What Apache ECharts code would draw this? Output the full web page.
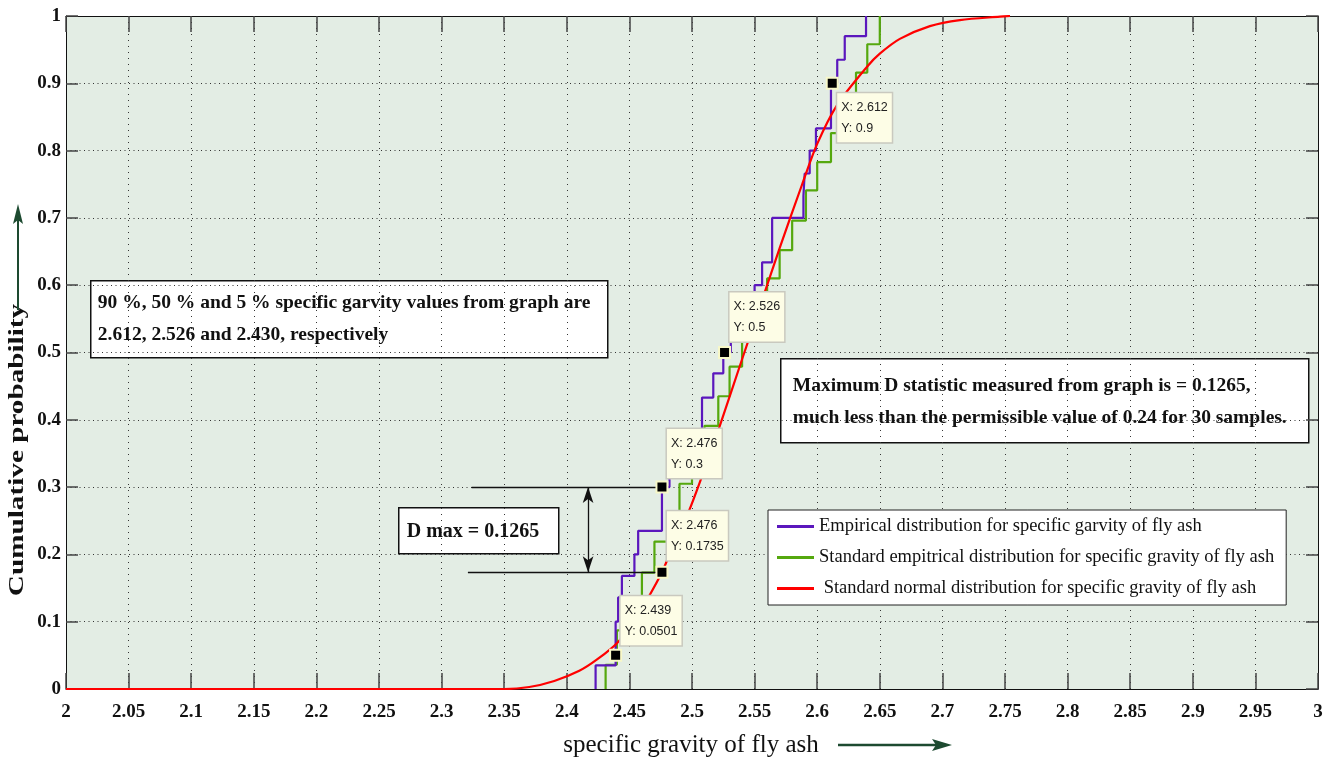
<!DOCTYPE html>
<html>
<head>
<meta charset="utf-8">
<script src="https://cdn.jsdelivr.net/npm/echarts@6/dist/echarts.min.js"></script>
<style>
  html, body { margin: 0; padding: 0; background: #ffffff; }
  #chart { width: 1335px; height: 763px; }
</style>
</head>
<body>
<div id="chart"></div>
<script>
// Empirical CDF of specific gravity (x at each jump, level after the jump)
const empiricalX = [2.423, 2.423, 2.439, 2.441, 2.444, 2.454, 2.457, 2.476, 2.482, 2.495, 2.508, 2.517, 2.525, 2.531, 2.540, 2.550, 2.556, 2.564, 2.589, 2.590, 2.594, 2.599, 2.611, 2.616, 2.622, 2.639];
const empiricalY = [0, 0.035, 0.1, 0.136, 0.168, 0.2, 0.235, 0.3, 0.333, 0.367, 0.433, 0.469, 0.5, 0.533, 0.567, 0.6, 0.634, 0.7, 0.733, 0.766, 0.8, 0.833, 0.9, 0.935, 0.97, 1.0];

// Standard empirical CDF
const standardX = [2.431, 2.431, 2.440, 2.450, 2.460, 2.470, 2.481, 2.490, 2.500, 2.510, 2.521, 2.530, 2.540, 2.550, 2.560, 2.570, 2.580, 2.591, 2.600, 2.611, 2.620, 2.631, 2.640, 2.650];
const standardY = [0, 0.036, 0.087, 0.130, 0.173, 0.219, 0.263, 0.305, 0.348, 0.391, 0.435, 0.479, 0.522, 0.565, 0.610, 0.652, 0.696, 0.741, 0.783, 0.826, 0.870, 0.916, 0.958, 1.0];

// Normal CDF curve
const normalX = [2.0, 2.35, 2.37, 2.39, 2.41, 2.425, 2.441, 2.455, 2.466, 2.476, 2.481, 2.497, 2.506, 2.522, 2.540, 2.556, 2.570, 2.588, 2.600, 2.616, 2.640, 2.650, 2.666, 2.690, 2.714, 2.746, 2.754];
const normalY = [0, 0, 0.003, 0.012, 0.027, 0.045, 0.07, 0.105, 0.139, 0.1735, 0.195, 0.262, 0.306, 0.39, 0.49, 0.578, 0.655, 0.75, 0.81, 0.868, 0.925, 0.944, 0.966, 0.985, 0.994, 0.999, 1.0];

// Data tips
const tipX = [2.612, 2.526, 2.476, 2.476, 2.439];
const tipY = [0.9, 0.5, 0.3, 0.1735, 0.0501];

// D max bracket
const dMaxUpper = 0.3, dMaxLower = 0.1735;
const dMaxUpperStart = 2.324, dMaxLowerStart = 2.321, dMaxEnd = 2.476, dMaxArrowX = 2.417;

const xMin = 2, xMax = 3, xStep = 0.05;
const yMin = 0, yMax = 1, yStep = 0.1;

const seriesNames = [
  'Empirical distribution for specific garvity of fly ash',
  'Standard empitrical distribution for specific gravity of fly ash',
  ' Standard normal distribution for specific gravity of fly ash'
];

const zip = (xs, ys) => xs.map((x, i) => [x, ys[i]]);
const fmt = v => String(+(+v).toFixed(2));

const serif = "'Liberation Serif', 'Times New Roman', serif";
const sans = "'Liberation Sans', Arial, sans-serif";

const chart = echarts.init(document.getElementById('chart'), null, { renderer: 'canvas' });

// Position of each tip box relative to its marker (first sits below, others above)
const tipOffsets = [[11.5, 16.5], [11.5, -53.5], [11.5, -51.5], [11.5, -54.5], [11.5, -52.5]];

const option = {
  backgroundColor: '#ffffff',
  animation: false,
  grid: {
    left: 66, right: 17, top: 16, bottom: 74,
    show: true, backgroundColor: '#e3ede4', borderWidth: 0
  },
  legend: {
    orient: 'vertical',
    left: 768, top: 510,
    data: seriesNames,
    backgroundColor: '#ffffff',
    borderColor: '#222222', borderWidth: 1,
    padding: [6, 12, 6, 9],
    itemWidth: 37, itemHeight: 3, itemGap: 10,
    icon: 'path://M0 0H40V3H0Z',
    textStyle: { fontFamily: serif, fontSize: 18.5, color: '#111', lineHeight: 21 }
  },
  xAxis: [{
    type: 'value', min: xMin, max: xMax, interval: xStep,
    axisLine: { show: true, onZero: false, lineStyle: { color: '#111', width: 1 } },
    axisTick: { show: true, inside: true, length: 16, lineStyle: { color: '#444', width: 1.5 } },
    axisLabel: { formatter: fmt, fontFamily: serif, fontWeight: 'bold', fontSize: 19, color: '#111', margin: 14 },
    splitLine: { show: true, lineStyle: { color: '#333', width: 1, type: [1, 5] } }
  }, {
    type: 'value', position: 'top', min: xMin, max: xMax, interval: xStep,
    axisLine: { show: true, onZero: false, lineStyle: { color: '#111', width: 1 } },
    axisTick: { show: true, inside: true, length: 16, lineStyle: { color: '#444', width: 1.5 } },
    axisLabel: { show: false }, splitLine: { show: false }
  }],
  yAxis: [{
    type: 'value', min: yMin, max: yMax, interval: yStep,
    axisLine: { show: true, onZero: false, lineStyle: { color: '#111', width: 1 } },
    axisTick: { show: true, inside: true, length: 12, lineStyle: { color: '#444', width: 1.5 } },
    axisLabel: { formatter: fmt, fontFamily: serif, fontWeight: 'bold', fontSize: 19, color: '#111', margin: 5 },
    splitLine: { show: true, lineStyle: { color: '#333', width: 1, type: [1, 3.5] } }
  }, {
    type: 'value', position: 'right', min: yMin, max: yMax, interval: yStep,
    axisLine: { show: true, onZero: false, lineStyle: { color: '#111', width: 1 } },
    axisTick: { show: true, inside: true, length: 12, lineStyle: { color: '#444', width: 1.5 } },
    axisLabel: { show: false }, splitLine: { show: false }
  }],
  series: [
    {
      name: seriesNames[2], type: 'line', data: zip(normalX, normalY),
      smooth: 0.3, symbol: 'none', color: '#ff0000',
      lineStyle: { color: '#ff0000', width: 2.2 }, z: 3
    },
    {
      name: seriesNames[1], type: 'line', data: zip(standardX, standardY),
      step: 'end', symbol: 'none', color: '#55a80e',
      lineStyle: { color: '#55a80e', width: 2.2 }, z: 2
    },
    {
      name: seriesNames[0], type: 'line', data: zip(empiricalX, empiricalY),
      step: 'end', symbol: 'none', color: '#5b17bd',
      lineStyle: { color: '#5b17bd', width: 2.2 }, z: 2
    },
    {
      // D max bracket lines and double arrow
      type: 'line', data: [], symbol: 'none', silent: true,
      markLine: {
        silent: true, animation: false,
        label: { show: false },
        lineStyle: { color: '#111', width: 1.3, type: 'solid' },
        data: [
          [{ coord: [dMaxUpperStart, dMaxUpper], symbol: 'none' }, { coord: [dMaxEnd, dMaxUpper], symbol: 'none' }],
          [{ coord: [dMaxLowerStart, dMaxLower], symbol: 'none' }, { coord: [dMaxEnd, dMaxLower], symbol: 'none' }],
          [{ coord: [dMaxArrowX, dMaxUpper], symbol: 'arrow', symbolSize: [8, 16] },
           { coord: [dMaxArrowX, dMaxLower], symbol: 'arrow', symbolSize: [8, 16] }]
        ]
      },
      z: 4
    },
    {
      // Data tip markers and their boxes
      type: 'scatter', symbol: 'rect', symbolSize: 11,
      itemStyle: { color: '#000000', borderColor: '#f8f8c8', borderWidth: 2, opacity: 1 },
      emphasis: { disabled: true },
      data: tipX.map((x, i) => ({
        value: [x, tipY[i]],
        label: { position: tipOffsets[i] }
      })),
      label: {
        show: true, opacity: 1,
        formatter: p => 'X: ' + p.value[0] + '\nY: ' + p.value[1],
        fontFamily: sans, fontSize: 12.5, color: '#222',
        lineHeight: 21, align: 'left', verticalAlign: 'top',
        backgroundColor: '#fdfde6', borderColor: '#c9c9bf', borderWidth: 1.5,
        padding: [4, 4, 3, 4]
      },
      z: 6
    }
  ],
  graphic: [
    // y-axis title with arrow
    {
      type: 'text', x: 18, y: 450, rotation: Math.PI / 2, scaleX: 1.46,
      style: { text: 'Cumulative probability', font: "bold 20px " + serif, fill: '#111', align: 'center', verticalAlign: 'middle' }
    },
    { type: 'line', shape: { x1: 18, y1: 310, x2: 18, y2: 218 }, style: { stroke: '#1d4a30', lineWidth: 2 } },
    { type: 'polygon', shape: { points: [[18, 204], [13, 224], [18, 220], [23, 224]] }, style: { fill: '#1d4a30' } },
    // x-axis title with arrow
    {
      type: 'text', x: 691, y: 745,
      style: { text: 'specific gravity of fly ash', font: "25px " + serif, fill: '#111', align: 'center', verticalAlign: 'middle' }
    },
    { type: 'line', shape: { x1: 838, y1: 745, x2: 940, y2: 745 }, style: { stroke: '#1d4a30', lineWidth: 2.5 } },
    { type: 'polygon', shape: { points: [[952, 745], [932, 739], [936, 745], [932, 751]] }, style: { fill: '#1d4a30' } },
    // percentile note
    {
      type: 'group', left: 90, top: 280, z: 10,
      children: [
        { type: 'rect', shape: { x: 0, y: 0, width: 517, height: 77 }, style: { fill: '#fff', stroke: '#111', lineWidth: 1.5 } },
        { type: 'text', x: 7, y: 22, style: { text: '90 %, 50 % and 5 % specific garvity values from graph are', font: "bold 19.5px " + serif, fill: '#111', verticalAlign: 'middle' } },
        { type: 'text', x: 7, y: 54, style: { text: '2.612, 2.526 and 2.430, respectively', font: "bold 19.5px " + serif, fill: '#111', verticalAlign: 'middle' } }
      ]
    },
    // D statistic note
    {
      type: 'group', left: 780, top: 358, z: 10,
      children: [
        { type: 'rect', shape: { x: 0, y: 0, width: 528, height: 84 }, style: { fill: '#fff', stroke: '#111', lineWidth: 1.5 } },
        { type: 'text', x: 12, y: 27, style: { text: 'Maximum D statistic measured from graph is = 0.1265,', font: "bold 19.5px " + serif, fill: '#111', verticalAlign: 'middle' } },
        { type: 'text', x: 12, y: 59, style: { text: 'much less than the permissible value of 0.24 for 30 samples.', font: "bold 19.5px " + serif, fill: '#111', verticalAlign: 'middle' } }
      ]
    },
    // D max label
    {
      type: 'group', left: 398, top: 507, z: 10,
      children: [
        { type: 'rect', shape: { x: 0, y: 0, width: 160, height: 46 }, style: { fill: '#fff', stroke: '#111', lineWidth: 1.5 } },
        { type: 'text', x: 8, y: 24, style: { text: 'D max = 0.1265', font: "bold 20px " + serif, fill: '#111', verticalAlign: 'middle' } }
      ]
    }
  ]
};

chart.setOption(option);
</script>
</body>
</html>
